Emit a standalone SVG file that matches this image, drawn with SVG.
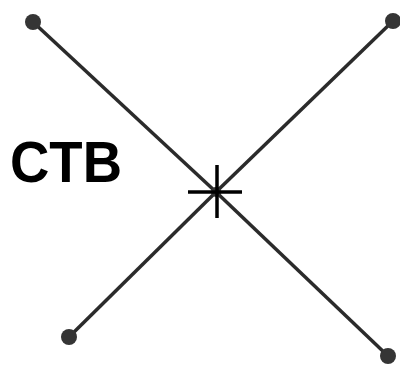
<svg xmlns="http://www.w3.org/2000/svg" width="400" height="365" viewBox="0 0 400 365">
  <style>
    .edge { stroke: #2b2b2b; stroke-width: 3.5; fill: none; }
    .dot { fill: #353535; }
    .cross { stroke: #000; stroke-width: 3.5; }
    .label { font-family: "Liberation Sans", Arial, sans-serif; font-weight: bold; font-size: 58px; fill: #000; }
  </style>
  <rect width="400" height="365" fill="#fff"/>
  <g id="connectors">
    <line class="edge" x1="216" y1="192" x2="33" y2="22"/>
    <line class="edge" x1="216" y1="192" x2="393" y2="21"/>
    <line class="edge" x1="216" y1="192" x2="69" y2="337"/>
    <line class="edge" x1="216" y1="192" x2="388" y2="356"/>
  </g>
  <g id="node-tl"><circle class="dot" cx="33" cy="22" r="8"/></g>
  <g id="node-tr"><circle class="dot" cx="393" cy="21" r="8"/></g>
  <g id="node-bl"><circle class="dot" cx="69" cy="337" r="8"/></g>
  <g id="node-br"><circle class="dot" cx="388" cy="356" r="8"/></g>
  <g id="node-center">
    <circle class="dot" cx="216" cy="192" r="5"/>
    <line class="cross" x1="217" y1="165" x2="217" y2="218"/>
    <line class="cross" x1="188" y1="192" x2="242" y2="192"/>
  </g>
  <g id="label">
    <text class="label" x="10" y="182" textLength="112" lengthAdjust="spacingAndGlyphs">CTB</text>
  </g>
</svg>
